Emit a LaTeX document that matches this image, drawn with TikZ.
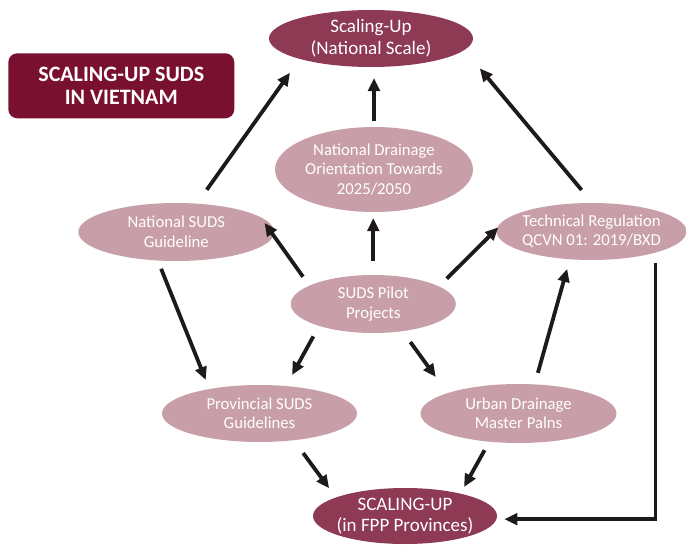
\documentclass[tikz,border=0pt]{standalone}
\usepackage{fontspec}
\setmainfont{Carlito}
\usetikzlibrary{arrows.meta,shapes.geometric}
\definecolor{darkrose}{RGB}{142,58,84}
\definecolor{lightrose}{RGB}{200,158,168}
\definecolor{titlered}{RGB}{122,16,48}
\definecolor{arrowblack}{RGB}{30,26,27}
\tikzset{
  darkell/.style={ellipse, fill=darkrose, text=white, align=center, inner sep=-8pt, outer sep=0pt,
    font=\fontsize{19}{21.7}\selectfont},
  lightell/.style={ellipse, fill=lightrose, text=white, align=center, inner sep=-8pt, outer sep=0pt,
    font=\fontsize{16.7}{19.5}\selectfont},
  titlebox/.style={rectangle, rounded corners=9pt, fill=titlered, text=white, align=center,
    font=\fontsize{22}{23.5}\selectfont\bfseries, inner sep=0pt},
  arr/.style={draw=arrowblack, line width=3.8pt, -{Triangle[length=13pt,width=11.5pt]}, line join=miter}
}
\begin{document}
\begin{tikzpicture}[x=1pt,y=-1pt]
\useasboundingbox (0,0) rectangle (686,546);
\fill[white] (0,0) rectangle (686,546);

\node[titlebox, minimum width=226pt, minimum height=65pt] (title) at (121.3,85.8) {SCALING-UP SUDS\\IN VIETNAM};

\node[darkell, minimum width=204pt, minimum height=57pt] (sun) at (371,38.5) {Scaling-Up\\(National Scale)};
\node[lightell, minimum width=198pt, minimum height=85pt] (ndo) at (374,169.5) {National Drainage\\Orientation Towards\\2025/2050};
\node[lightell, minimum width=196pt, minimum height=58pt] (nsg) at (176.3,232) {National SUDS\\Guideline};
\node[lightell, minimum width=190pt, minimum height=57pt] (tr) at (591.5,231.5) {Technical Regulation\\QCVN 01: 2019/BXD};
\node[lightell, minimum width=165pt, minimum height=58pt] (spp) at (373.3,304) {SUDS Pilot\\Projects};
\node[lightell, minimum width=195pt, minimum height=57pt] (pvg) at (259.5,413.5) {Provincial SUDS\\Guidelines};
\node[lightell, minimum width=196pt, minimum height=59pt] (udm) at (518.5,413.5) {Urban Drainage\\Master Palns};
\node[darkell, minimum width=184pt, minimum height=56pt] (fpp) at (405,516) {SCALING-UP\\(in FPP Provinces)};

\coordinate (trb) at ([xshift=64pt,yshift=-3pt]tr.south);

\draw[arr, shorten <=17pt, shorten >=17pt] (nsg.54) -- (sun.196);
\draw[arr, shorten <=6pt, shorten >=11pt] (ndo.north) -- (ndo.north |- sun.south);
\draw[arr, shorten <=17pt, shorten >=24pt] (tr.88) -- (sun.-7);
\draw[arr, shorten <=14pt, shorten >=6pt] (spp.north) -- (spp.north |- ndo.south);
\draw[arr, shorten <=11pt, shorten >=7pt] (spp.164) -- (nsg.10);
\draw[arr, shorten <=11pt, shorten >=13pt] (spp.15) -- (tr.171);
\draw[arr, shorten <=12pt, shorten >=12.6pt] (spp.202) -- (pvg.46);
\draw[arr, shorten <=13.5pt, shorten >=20pt] (spp.-43) -- (udm.164);
\draw[arr, shorten <=9pt, shorten >=9.8pt] (nsg.237) -- (pvg.154);
\draw[arr, shorten <=12pt, shorten >=10pt] (udm.61) -- (tr.232);
\draw[arr, shorten <=16pt, shorten >=11.5pt] (pvg.-38.5) -- (fpp.165);
\draw[arr, shorten <=9.8pt, shorten >=7.6pt] (udm.224) -- (fpp.22.6);
\draw[arr, shorten >=8pt] (trb) |- (fpp.-2.5);
\end{tikzpicture}
\end{document}
